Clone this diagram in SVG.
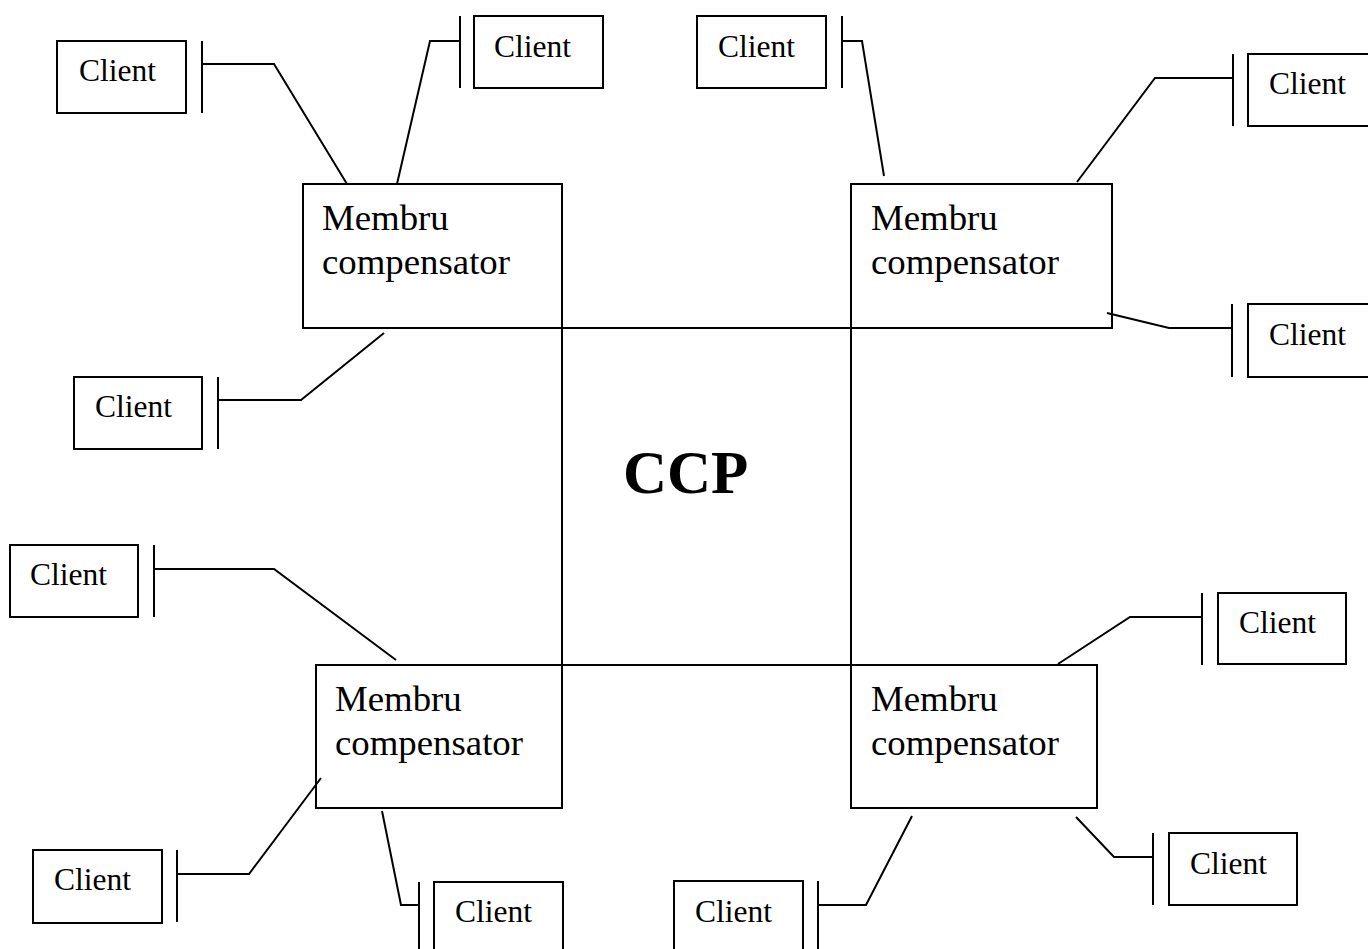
<svg xmlns="http://www.w3.org/2000/svg" width="1368" height="949" viewBox="0 0 1368 949">
<style>
.box{fill:none;stroke:#000;stroke-width:2}
.bar{stroke:#000;stroke-width:2}
.con{fill:none;stroke:#000;stroke-width:2}
.ct{font-family:"Liberation Serif","Times New Roman",serif;font-size:31.5px;fill:#000}
.mt{font-family:"Liberation Serif","Times New Roman",serif;font-size:36.8px;fill:#000}
.ccp{font-family:"Liberation Serif","Times New Roman",serif;font-size:61px;font-weight:bold;fill:#000}
</style>
<rect width="1368" height="949" fill="#fff"/>
<g id="connectors">
<path class="con" d="M562 328H851M562 328V665M851 328V665M562 665H851"/>
<polyline class="con" points="202,64 274,64 347,184"/>
<polyline class="con" points="460,41 430,41 397,184"/>
<polyline class="con" points="842,41 862,41 884,176"/>
<polyline class="con" points="1233,78 1155,78 1077,182"/>
<polyline class="con" points="1232,328 1169,328 1107,313"/>
<polyline class="con" points="218,400 301,400 384,333"/>
<polyline class="con" points="154,569 274,569 396,660"/>
<polyline class="con" points="1202,617 1130,617 1058,664"/>
<polyline class="con" points="177,874 249,874 321,778"/>
<polyline class="con" points="382,811 401,905 419,905"/>
<polyline class="con" points="818,905 866,905 912,816"/>
<polyline class="con" points="1076,817 1114,857 1153,857"/>
</g>
<g id="m1"><rect class="box" x="303" y="184" width="259" height="144"/><text class="mt" x="322" y="230">Membru</text><text class="mt" x="322" y="274">compensator</text></g>
<g id="m2"><rect class="box" x="851" y="184" width="261" height="144"/><text class="mt" x="871" y="230">Membru</text><text class="mt" x="871" y="274">compensator</text></g>
<g id="m3"><rect class="box" x="316" y="665" width="246" height="143"/><text class="mt" x="335" y="711">Membru</text><text class="mt" x="335" y="755">compensator</text></g>
<g id="m4"><rect class="box" x="851" y="665" width="246" height="143"/><text class="mt" x="871" y="711">Membru</text><text class="mt" x="871" y="755">compensator</text></g>
<g id="ccp"><text class="ccp" x="623" y="493">CCP</text></g>
<g id="c1"><rect class="box" x="57" y="41" width="129" height="72"/><line class="bar" x1="202" y1="41" x2="202" y2="113"/><text class="ct" x="79" y="81">Client</text></g>
<g id="c2"><rect class="box" x="474" y="16" width="129" height="72"/><line class="bar" x1="460" y1="16" x2="460" y2="88"/><text class="ct" x="494" y="57">Client</text></g>
<g id="c3"><rect class="box" x="697" y="16" width="129" height="72"/><line class="bar" x1="842" y1="16" x2="842" y2="88"/><text class="ct" x="718" y="57">Client</text></g>
<g id="c4"><rect class="box" x="1248" y="54" width="129" height="72"/><line class="bar" x1="1233" y1="54" x2="1233" y2="126"/><text class="ct" x="1269" y="94">Client</text></g>
<g id="c5"><rect class="box" x="1248" y="304" width="129" height="73"/><line class="bar" x1="1232" y1="304" x2="1232" y2="377"/><text class="ct" x="1269" y="345">Client</text></g>
<g id="c6"><rect class="box" x="74" y="377" width="128" height="72"/><line class="bar" x1="218" y1="377" x2="218" y2="449"/><text class="ct" x="95" y="417">Client</text></g>
<g id="c7"><rect class="box" x="10" y="545" width="128" height="72"/><line class="bar" x1="154" y1="545" x2="154" y2="617"/><text class="ct" x="30" y="585">Client</text></g>
<g id="c8"><rect class="box" x="1218" y="593" width="128" height="71"/><line class="bar" x1="1202" y1="593" x2="1202" y2="665"/><text class="ct" x="1239" y="633">Client</text></g>
<g id="c9"><rect class="box" x="33" y="850" width="129" height="73"/><line class="bar" x1="177" y1="850" x2="177" y2="922"/><text class="ct" x="54" y="890">Client</text></g>
<g id="c10"><rect class="box" x="434" y="882" width="129" height="80"/><line class="bar" x1="419" y1="882" x2="419" y2="955"/><text class="ct" x="455" y="922">Client</text></g>
<g id="c11"><rect class="box" x="674" y="881" width="129" height="80"/><line class="bar" x1="818" y1="881" x2="818" y2="955"/><text class="ct" x="695" y="922">Client</text></g>
<g id="c12"><rect class="box" x="1169" y="833" width="128" height="72"/><line class="bar" x1="1153" y1="833" x2="1153" y2="905"/><text class="ct" x="1190" y="874">Client</text></g>
</svg>
